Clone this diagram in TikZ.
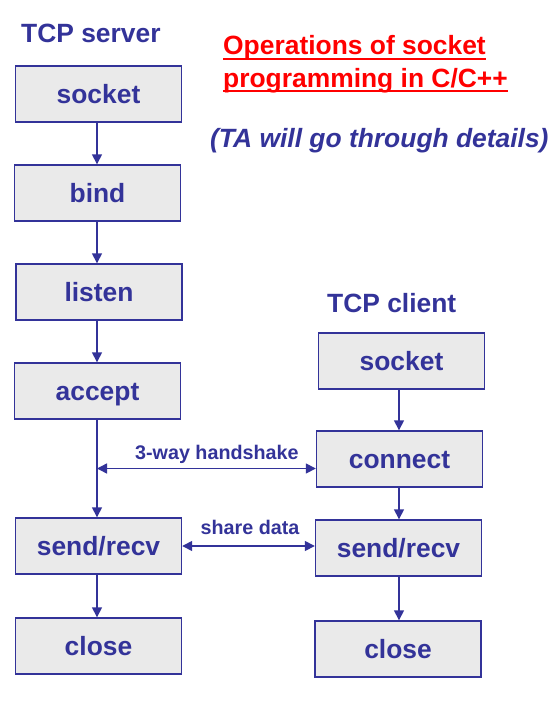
\documentclass[tikz,border=0pt]{standalone}
\usepackage{fontspec}
\setmainfont{Liberation Sans}
\usetikzlibrary{arrows.meta,calc}
\definecolor{navy}{HTML}{333399}
\definecolor{boxfill}{HTML}{EAEAEA}
\definecolor{titlered}{HTML}{FF0000}
\tikzset{
  opbox/.style={draw=navy, line width=1.4bp, fill=boxfill, minimum width=166bp, minimum height=56bp, inner sep=0pt,
    text height=19.5bp, text depth=0bp,
    text=navy, font=\fontsize{26.5}{30}\selectfont\bfseries},
  flow/.style={draw=navy, line width=1.5bp, -{Triangle[length=10bp,width=10bp]}},
  biflow/.style={draw=navy, line width=1.5bp, {Triangle[length=10bp,width=10bp]}-{Triangle[length=10bp,width=10bp]}},
  heading/.style={inner sep=0pt, anchor=base west, text=navy, font=\fontsize{26.5}{30}\selectfont\bfseries},
  redtitle/.style={inner sep=0pt, anchor=base west, text=titlered, font=\fontsize{26.5}{30}\selectfont\bfseries},
  smalllabel/.style={inner sep=0pt, anchor=base west, text=navy, font=\fontsize{19.8}{22}\selectfont\bfseries},
}
\begin{document}
\begin{tikzpicture}[x=1bp, y=-1bp]
\useasboundingbox[fill=white] (0,0) rectangle (556,705);
% headings
\node[heading] (hserver) at (21,43) {TCP server};
\node[heading] (hclient) at (327,312) {TCP client};
\node[redtitle] (t1) at (223,55) {Operations of socket};
\node[redtitle] (t2) at (223,87.5) {programming in C/C++};
\draw[titlered, line width=2bp] ($(t1.base west)+(0,3.8)$) -- ($(t1.base east)+(0,3.8)$);
\draw[titlered, line width=2bp] ($(t2.base west)+(0,3.8)$) -- ($(t2.base east)+(0,3.8)$);
\node[heading, font=\fontsize{26.5}{30}\selectfont\bfseries\itshape] (ta) at (210,147) {(TA will go through details)};
% server column
\node[opbox] (s1) at (98.5,94) {socket};
\node[opbox] (b) at (97.5,193) {bind};
\node[opbox] (l) at (99,292) {listen};
\node[opbox] (a) at (97.5,391) {accept};
\node[opbox] (sr1) at (98.5,546) {send/recv};
\node[opbox] (c1) at (98.5,646) {close};
% client column
\node[opbox] (s2) at (401.5,361) {socket};
\node[opbox] (cn) at (399.5,459) {connect};
\node[opbox] (sr2) at (398.5,548) {send/recv};
\node[opbox] (c2) at (398,649) {close};
% server arrows
\coordinate (xs) at (97,0);
\draw[flow] (xs |- s1.south) -- (xs |- b.north);
\draw[flow] (xs |- b.south) -- (xs |- l.north);
\draw[flow] (xs |- l.south) -- (xs |- a.north);
\draw[flow] (xs |- a.south) -- (xs |- sr1.north);
\draw[flow] (xs |- sr1.south) -- (xs |- c1.north);
% client arrows
\coordinate (xc) at (399,0);
\draw[flow] (xc |- s2.south) -- (xc |- cn.north);
\draw[flow] (xc |- cn.south) -- (xc |- sr2.north);
\draw[flow] (xc |- sr2.south) -- (xc |- c2.north);
% handshake
\coordinate (hsL) at (97,468.5);
\draw[biflow] (hsL) -- (hsL -| cn.west);
\node[smalllabel] (lhs) at (135,459) {3-way handshake};
% share data
\draw[biflow] (sr1.east) -- (sr1.east -| sr2.west);
\node[smalllabel] (lsd) at (200.5,534) {share data};
\end{tikzpicture}
\end{document}
